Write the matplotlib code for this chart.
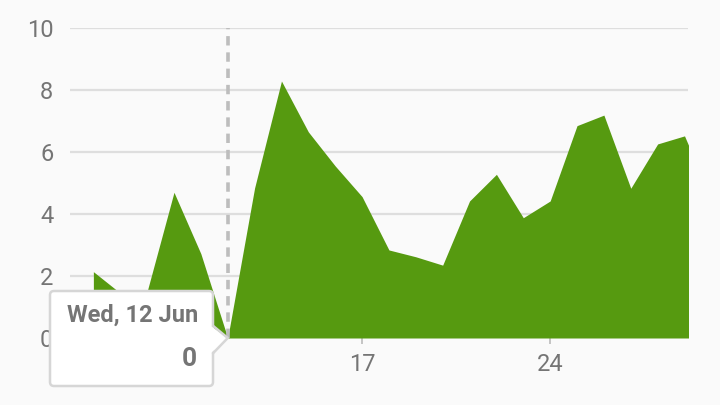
import matplotlib
matplotlib.use("Agg")
import matplotlib.pyplot as plt
from matplotlib.patches import FancyBboxPatch, Polygon
from matplotlib.lines import Line2D
from matplotlib.transforms import IdentityTransform

# ---- data (day of June -> value) ----
days = [7, 8, 9, 10, 11, 12, 13, 14, 15, 16, 17, 18, 19, 20, 21, 22, 23, 24,
        25, 26, 27, 28, 29, 30]
values = [2.14, 1.45, 1.5, 4.7, 2.72, 0.0, 4.84, 8.29, 6.65, 5.55, 4.56, 2.84,
          2.62, 2.35, 4.42, 5.28, 3.88, 4.42, 6.85, 7.19, 4.83, 6.26, 6.52, 4.5]
y_ticks = [0, 2, 4, 6, 8, 10]
x_ticks = [17, 24]
x_tick_labels = ["17", "24"]
hover_day = 12
hover_value = 0
hover_label = "Wed, 12 Jun"

W, H = 720, 405
BG = "#fafafa"
GREEN = "#569a10"
GRID = "#dedede"
TEXT = "#757575"

plt.rcParams['font.family'] = ['Roboto', 'DejaVu Sans']

fig = plt.figure(figsize=(W / 100, H / 100), dpi=100, facecolor=BG)
ax = fig.add_axes([70 / W, (H - 338) / H, (688 - 70) / W, (338 - 28) / H])
ax.set_facecolor(BG)

ax.fill_between(days, values, 0, color=GREEN, lw=0, zorder=2)

ax.set_xlim(6.13, 29.13)
ax.set_ylim(0, 10)
ax.set_yticks(y_ticks)
ax.set_yticklabels([str(t) for t in y_ticks])
ax.set_xticks(x_ticks)
ax.set_xticklabels(x_tick_labels)
ax.yaxis.grid(True, color=GRID, lw=1.6, zorder=1)
ax.set_axisbelow(True)
for s in ax.spines.values():
    s.set_visible(False)
ax.axhline(0, color="#d0d0d0", lw=1.6, zorder=1)
ax.tick_params(axis='y', length=0, pad=12, labelsize=17, labelcolor=TEXT)
ax.tick_params(axis='x', length=4, width=1.3, color="#c0c0c0", pad=7,
               labelsize=17, labelcolor=TEXT)

# hover dashed line
ax.axvline(hover_day, ymin=0, ymax=1, color="#bdbdbd", lw=2.6,
           linestyle=(0, (2.6, 1.9)), zorder=3)

# ---- tooltip (pixel coords, y from top) ----
def P(x, yt):
    return (x, H - yt)

fig.canvas.draw()
tip = ax.transData.transform((hover_day, hover_value))
tipx, tipy = tip[0], tip[1]

bx0, bx1, by0, by1 = 50, 213, 291, 386  # left, right, top, bottom (from top)
box = FancyBboxPatch(P(bx0, by1), bx1 - bx0, by1 - by0,
                     boxstyle="round,pad=0,rounding_size=4",
                     transform=IdentityTransform(), facecolor="white",
                     edgecolor="#d6d6d6", lw=1.8, zorder=10)
fig.patches.append(box)
ptr = Polygon([P(bx1 - 2, 326), (tipx, tipy), P(bx1 - 2, 353)], closed=True,
              transform=IdentityTransform(), facecolor="white",
              edgecolor="none", zorder=11)
fig.patches.append(ptr)
fig.lines.append(Line2D([bx1 + 0.3, tipx, bx1 + 0.3],
                        [H - 326, tipy, H - 353], color="#d6d6d6", lw=1.8,
                        transform=IdentityTransform(), zorder=12))

fig.text(67 / W, 1 - 315 / H, hover_label, fontsize=17, color=TEXT,
         fontweight="bold", va="center", ha="left", zorder=13)
fig.text(197 / W, 1 - 359 / H, str(hover_value), fontsize=19, color=TEXT,
         fontweight="bold", va="center", ha="right", zorder=13)

fig.savefig("out.png", dpi=100, facecolor=BG)
